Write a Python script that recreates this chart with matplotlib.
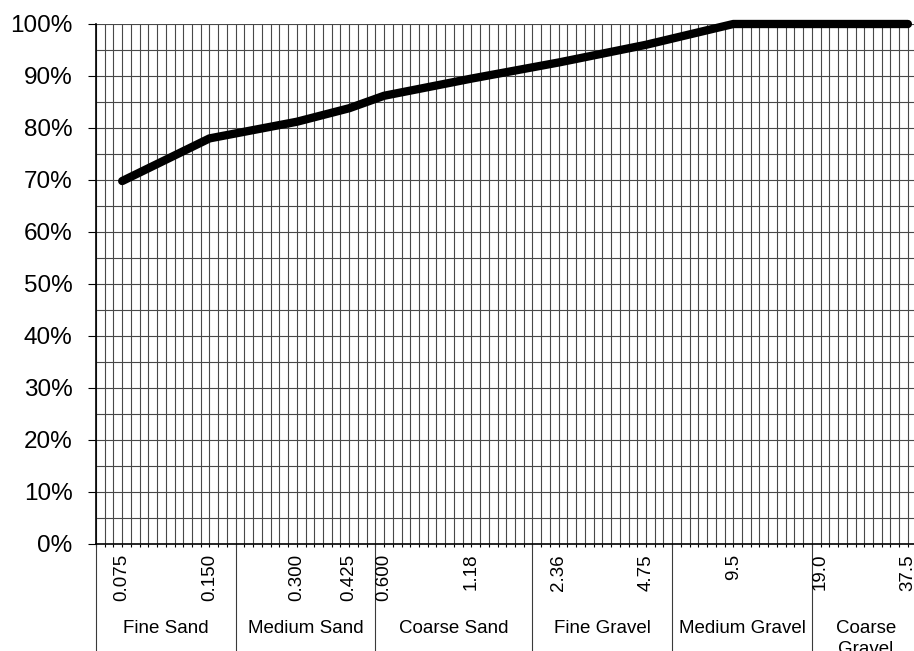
import numpy as np
import matplotlib.pyplot as plt
from matplotlib.ticker import MultipleLocator, FixedLocator, NullFormatter

plt.rcParams['font.family'] = ['Liberation Sans', 'DejaVu Sans']

# sieve sizes (mm) and their slot on the category axis
sieve_labels = ['0.075', '0.150', '0.300', '0.425', '0.600', '1.18',
                '2.36', '4.75', '9.5', '19.0', '37.5']
sieve_pos = [3, 13, 23, 29, 33, 43, 53, 63, 73, 83, 93]
percent_passing = [69.8, 78.0, 81.2, 83.8, 86.2, 89.5, 92.6, 96.0, 100, 100, 100]

# soil classes along the bottom
class_names = ['Fine Sand', 'Medium Sand', 'Coarse Sand', 'Fine Gravel',
               'Medium Gravel', 'Coarse\nGravel']
class_edges = [0, 16, 32, 50, 66, 82]
class_centers = [8, 24, 41, 58, 74, 88.2]

W, H = 914, 651
fig = plt.figure(figsize=(W / 100, H / 100), dpi=100)
ax = fig.add_axes([96 / W, (H - 544) / H, (W - 96) / W, 520 / H])

grid_kw = dict(color='#484848', linewidth=0.8)
ax.xaxis.set_major_locator(FixedLocator(np.arange(0, 94)))
ax.xaxis.set_major_formatter(NullFormatter())
ax.yaxis.set_major_locator(MultipleLocator(10))
ax.yaxis.set_minor_locator(MultipleLocator(5))
ax.grid(True, which='major', axis='both', **grid_kw)
ax.grid(True, which='minor', axis='y', **grid_kw)
ax.set_axisbelow(True)

ax.plot(sieve_pos, percent_passing, color='black', linewidth=6,
        solid_capstyle='round', solid_joinstyle='round', zorder=3, clip_on=False)

ax.set_xlim(0, 93.7)
ax.set_ylim(0, 100)
ax.set_yticks(np.arange(0, 101, 10))
ax.set_yticklabels([f'{v}%' for v in range(0, 101, 10)], fontsize=17.5)
ax.tick_params(axis='y', which='major', direction='out', length=6, width=0.8, pad=11)
ax.tick_params(axis='y', which='minor', length=0)
ax.tick_params(axis='x', direction='out', length=2.3, width=0.8)

for side in ['top', 'right']:
    ax.spines[side].set_visible(False)
ax.spines['left'].set_linewidth(1.2)
ax.spines['bottom'].set_linewidth(1.2)

trans = ax.get_xaxis_transform()
for x in class_edges:
    ax.plot([x, x], [0, -0.23], color='#3a3a3a', linewidth=0.8,
            transform=trans, clip_on=False)

for x, lab in zip(sieve_pos, sieve_labels):
    ax.text(x, -0.019, lab, rotation=90, ha='center', va='top',
            fontsize=13.5, transform=trans)

for x, name in zip(class_centers, class_names):
    ax.text(x, -0.146, name, ha='center', va='top', fontsize=13.5,
            linespacing=1.3, transform=trans)

fig.savefig('out.png', dpi=100)
